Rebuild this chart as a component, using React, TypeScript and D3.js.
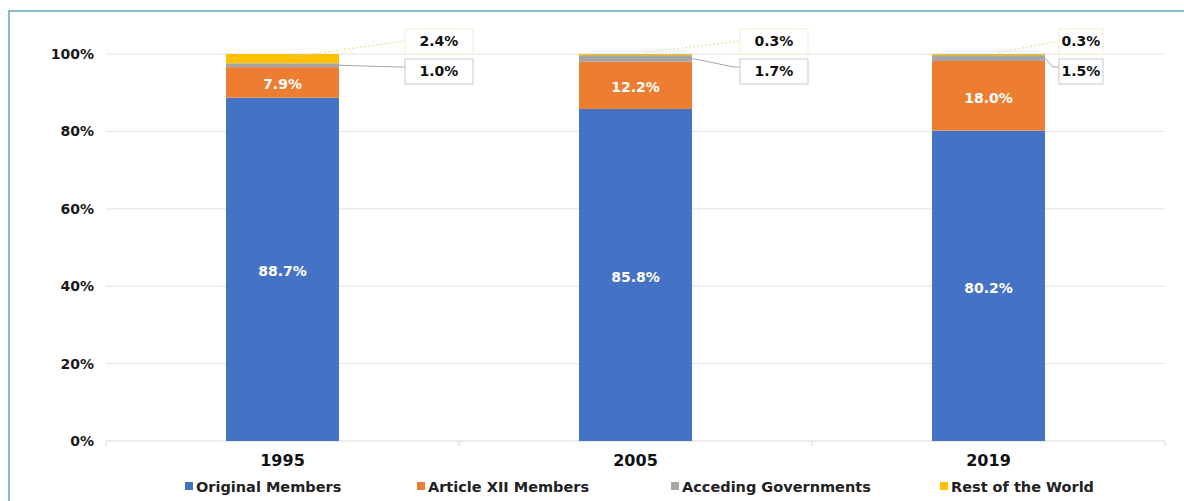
import React from 'react'
import * as d3 from 'd3'

const YEARS = ['1995', '2005', '2019']
const SERIES = ['Original Members', 'Article XII Members', 'Acceding Governments', 'Rest of the World']
const COLORS = ['#4472c4', '#ed7d31', '#a5a5a5', '#ffc000']

const ORIGINAL = [88.7, 85.8, 80.2]
const ARTICLE_XII = [7.9, 12.2, 18.0]
const ACCEDING = [1.0, 1.7, 1.5]
const REST = [2.4, 0.3, 0.3]

const Y_TICKS = [0, 20, 40, 60, 80, 100]

const W = 1184
const H = 501
const FONT = '"DejaVu Sans", Verdana, sans-serif'

export default function App() {
  const margin = { top: 54, right: 19, bottom: 60, left: 106 }

  const x = d3
    .scaleBand<string>()
    .domain(YEARS)
    .range([margin.left, W - margin.right])
    .padding(0)
  const y = d3.scaleLinear().domain([0, 100]).range([H - margin.bottom, margin.top])
  const barW = x.bandwidth() * 0.32

  const rows = YEARS.map((year, i) => ({
    year,
    'Original Members': ORIGINAL[i],
    'Article XII Members': ARTICLE_XII[i],
    'Acceding Governments': ACCEDING[i],
    'Rest of the World': REST[i],
  }))
  const stacked = d3.stack<any>().keys(SERIES)(rows)

  // callout box offsets from bar right edge, per year
  const calloutDx = [66, 48, 14]
  const calloutW = [68, 68, 44]
  const legendX = [185, 417, 671, 940]

  const x0 = x.range()[0]
  const x1 = x.range()[1]

  return (
    <svg
      width={W}
      height={H}
      style={{ position: 'absolute', left: 0, top: 0, background: '#fff' }}
      fontFamily={FONT}
    >
      <rect x={9} y={11} width={1400} height={700} fill="none" stroke="#5ba8b8" strokeWidth={1.5} />

      {/* grid */}
      {Y_TICKS.map((t) => (
        <g key={t}>
          {t > 0 && <line x1={x0} x2={x1} y1={y(t)} y2={y(t)} stroke="#e3e3e3" strokeWidth={1} />}
          <text
            x={94}
            y={y(t)}
            dy="0.35em"
            textAnchor="end"
            fontSize={14}
            fontWeight="bold"
            fill="#1a1a1a"
          >
            {t}%
          </text>
        </g>
      ))}

      {/* axis line */}
      <line x1={x0} x2={x1} y1={y(0)} y2={y(0)} stroke="#d9d9d9" strokeWidth={1} />
      {[...YEARS.map((d) => x(d) as number), x1].map((tx, i) => (
        <line key={i} x1={tx} x2={tx} y1={y(0)} y2={y(0) + 5} stroke="#d9d9d9" />
      ))}

      {/* bars */}
      {stacked.map((layer, si) =>
        layer.map((seg, i) => {
          const bx = (x(YEARS[i]) as number) + (x.bandwidth() - barW) / 2
          return (
            <rect
              key={`${si}-${i}`}
              x={bx}
              y={y(seg[1])}
              width={barW}
              height={y(seg[0]) - y(seg[1])}
              fill={COLORS[si]}
            />
          )
        })
      )}

      {/* inside labels */}
      {stacked.slice(0, 2).map((layer, si) =>
        layer.map((seg, i) => {
          const cx = (x(YEARS[i]) as number) + x.bandwidth() / 2
          const v = seg[1] - seg[0]
          return (
            <text
              key={`l${si}-${i}`}
              x={cx}
              y={(y(seg[0]) + y(seg[1])) / 2 + 2}
              dy="0.35em"
              textAnchor="middle"
              fill="#fff"
              fontSize={14}
              fontWeight="bold"
            >
              {v.toFixed(1)}%
            </text>
          )
        })
      )}

      {/* callouts */}
      {YEARS.map((year, i) => {
        const barRight = (x(year) as number) + (x.bandwidth() + barW) / 2
        const barCenter = (x(year) as number) + x.bandwidth() / 2
        const bx = barRight + calloutDx[i]
        const bw = calloutW[i]
        const gSeg = stacked[2][i]
        const rSeg = stacked[3][i]
        const restY = y(100) - 13
        const accY = y(100) + 17
        return (
          <g key={`c${year}`}>
            <line
              x1={barCenter + 10}
              y1={y((rSeg[0] + rSeg[1]) / 2) - 2}
              x2={bx}
              y2={restY}
              stroke="#efd88a"
              strokeWidth={1}
              strokeDasharray="2,2"
            />
            <polyline
              points={`${barRight},${y((gSeg[0] + gSeg[1]) / 2)} ${bx - 6},${accY - 4} ${bx},${accY - 4}`}
              fill="none"
              stroke="#a5a5a5"
              strokeWidth={1}
            />
            <rect x={bx} y={restY - 12} width={bw} height={25} fill="#fff" stroke="#f6eccb" />
            <text x={bx + bw / 2} y={restY} dy="0.35em" textAnchor="middle" fontSize={14} fontWeight="bold" fill="#111">
              {REST[i].toFixed(1)}%
            </text>
            <rect x={bx} y={accY - 12} width={bw} height={25} fill="#fff" stroke="#c9c9c9" />
            <text x={bx + bw / 2} y={accY} dy="0.35em" textAnchor="middle" fontSize={14} fontWeight="bold" fill="#111">
              {ACCEDING[i].toFixed(1)}%
            </text>
          </g>
        )
      })}

      {/* x labels */}
      {YEARS.map((year) => (
        <text
          key={`x${year}`}
          x={(x(year) as number) + x.bandwidth() / 2}
          y={466}
          textAnchor="middle"
          fontSize={16}
          fontWeight="bold"
          fill="#111"
        >
          {year}
        </text>
      ))}

      {/* legend */}
      {SERIES.map((s, i) => (
        <g key={s} transform={`translate(${legendX[i]},487)`}>
          <rect x={0} y={-5} width={8} height={8} fill={COLORS[i]} />
          <text x={11} y={0} dy="0.35em" fontSize={14.5} fontWeight="bold" fill="#222">
            {s}
          </text>
        </g>
      ))}
    </svg>
  )
}
